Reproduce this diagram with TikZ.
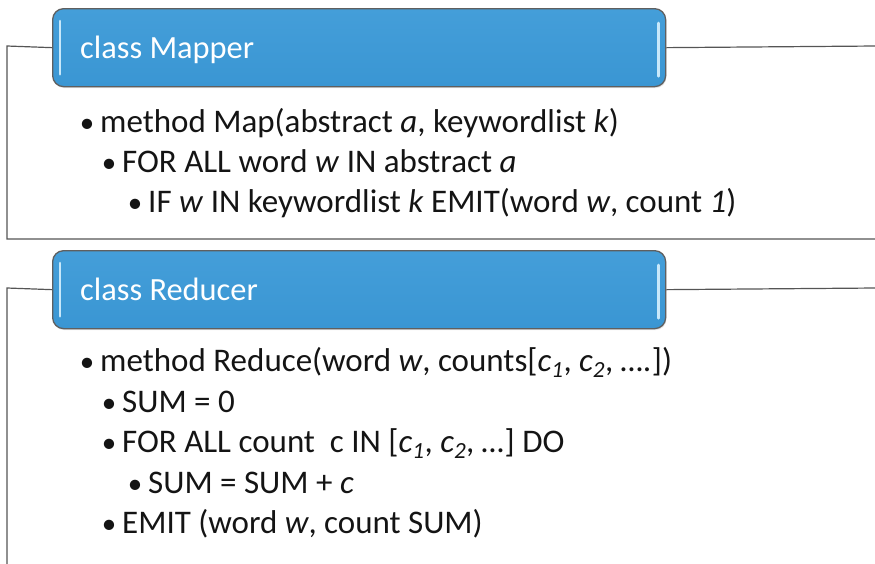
\documentclass[tikz,border=0pt]{standalone}
\usepackage{fontspec}
\setmainfont{Carlito}
\usetikzlibrary{shadows}
\definecolor{boxtop}{RGB}{68,158,217}
\definecolor{boxbot}{RGB}{58,150,211}
\definecolor{rimgrey}{RGB}{95,95,95}
\definecolor{linegrey}{RGB}{85,85,85}
\definecolor{textgrey}{RGB}{20,20,20}
\definecolor{glint}{RGB}{200,232,250}
\begin{document}
\begin{tikzpicture}[x=1pt,y=-1pt,
  classbox/.style={draw=rimgrey,line width=1.3pt,rounded corners=11pt,
    top color=boxtop,bottom color=boxbot,
    drop shadow={shadow xshift=0.8pt,shadow yshift=-1.5pt,opacity=0.2},
    minimum width=613pt,minimum height=78pt,inner sep=0pt,anchor=north west},
  classtitle/.style={text=white,font=\fontsize{32.4}{36}\selectfont,anchor=base west,inner sep=0pt},
  bodytext/.style={text=textgrey,font=\fontsize{33}{37}\selectfont,anchor=base west,inner sep=0pt},
  bul/.style={text=textgrey,font=\fontsize{29}{32}\selectfont,anchor=base,inner sep=0pt},
  frame/.style={draw=linegrey,line width=1.2pt},
  glintbar/.style={draw=glint,line width=2.6pt,line cap=round}
]
\useasboundingbox (0,0) rectangle (875,563);

% ---- class Mapper ----
\node[classbox] (mapper) at (52,8) {};
\draw[glintbar] ([xshift=8pt,yshift=-13pt]mapper.north west) -- ([xshift=8pt,yshift=13pt]mapper.south west);
\draw[glintbar] ([xshift=-8pt,yshift=-15pt]mapper.north east) -- ([xshift=-8pt,yshift=11pt]mapper.south east);
\node[classtitle] (mtitle) at (80,58) {class Mapper};

\coordinate (mL) at (7,46);
\coordinate (mB) at (7,239);
\coordinate (mBR) at (876,239);
\coordinate (mR) at (876,46);
\draw[frame] (mapper.west) -- (mL) -- (mB) -- (mBR);
\draw[frame] (mapper.east) -- (mR);

\node[bul] (mb1) at (87,132) {•};
\node[bodytext] (m1) at (100,132) {method Map(abstract \textit{a}, keywordlist \textit{k})};
\node[bul] (mb2) at (109,172) {•};
\node[bodytext] (m2) at (122,172) {FOR ALL word \textit{w} IN abstract \textit{a}};
\node[bul] (mb3) at (135,212) {•};
\node[bodytext] (m3) at (148,212) {IF \textit{w} IN keywordlist \textit{k} EMIT(word \textit{w}, count \textit{1})};

% ---- class Reducer ----
\node[classbox] (reducer) at (52,250) {};
\draw[glintbar] ([xshift=8pt,yshift=-13pt]reducer.north west) -- ([xshift=8pt,yshift=13pt]reducer.south west);
\draw[glintbar] ([xshift=-8pt,yshift=-15pt]reducer.north east) -- ([xshift=-8pt,yshift=11pt]reducer.south east);
\node[classtitle] (rtitle) at (80,300) {class Reducer};

\coordinate (rL) at (7,288);
\coordinate (rB) at (7,566);
\coordinate (rR) at (876,288);
\draw[frame] (reducer.west) -- (rL) -- (rB);
\draw[frame] (reducer.east) -- (rR);

\node[bul] (rb1) at (87,371) {•};
\node[bodytext] (r1) at (100,371) {method Reduce(word \textit{w}, counts[\textit{c}\textsubscript{\textit{1}}, \textit{c}\textsubscript{\textit{2}}, \textit{….}])};
\node[bul] (rb2) at (109,412) {•};
\node[bodytext] (r2) at (122,412) {SUM = 0};
\node[bul] (rb3) at (109,452) {•};
\node[bodytext] (r3) at (122,452) {FOR ALL count\ \ c IN [\textit{c}\textsubscript{\textit{1}}, \textit{c}\textsubscript{\textit{2}}, \textit{…}] DO};
\node[bul] (rb4) at (135,493) {•};
\node[bodytext] (r4) at (148,493) {SUM = SUM + \textit{c}};
\node[bul] (rb5) at (109,533) {•};
\node[bodytext] (r5) at (122,533) {EMIT (word \textit{w}, count SUM)};
\end{tikzpicture}
\end{document}
